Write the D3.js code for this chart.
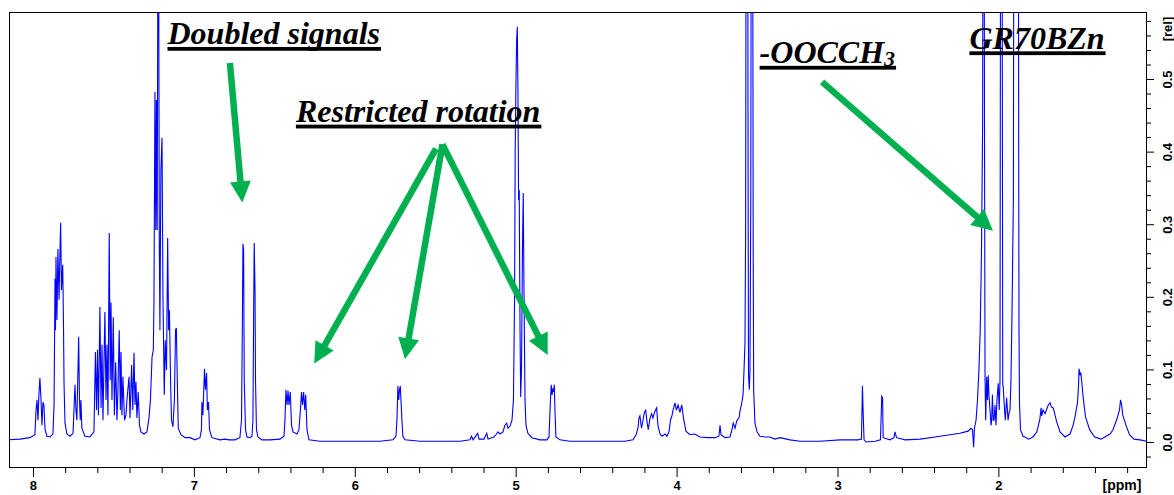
<!DOCTYPE html>
<html>
<head>
<meta charset="utf-8">
<script src="https://cdn.jsdelivr.net/npm/d3@7"></script>
<style>
  html, body { margin: 0; padding: 0; background: #fff; }
  svg { display: block; }
</style>
</head>
<body>
<svg id="chart" width="1174" height="495"></svg>
<script>
// ---------------- DATA ----------------
// 1H NMR spectrum: [chemical shift (ppm), relative intensity]
// 0.90 marks signals that run off the top of the plot.
const aromaticRegion = [
[8.155,0.003],[8.081,0.004],[8.019,0.006],[7.988,0.010],[7.981,0.044],[7.975,0.058],[7.969,0.030],
[7.963,0.065],[7.957,0.088],[7.950,0.058],[7.944,0.023],[7.938,0.055],[7.932,0.051],[7.925,0.017],
[7.913,0.008],[7.894,0.007],[7.876,0.011],[7.869,0.051],[7.863,0.225],[7.860,0.154],[7.857,0.255],
[7.851,0.168],[7.845,0.266],[7.838,0.196],[7.832,0.265],[7.828,0.302],[7.823,0.209],[7.815,0.244],
[7.810,0.154],[7.807,0.081],[7.801,0.026],[7.789,0.011],[7.770,0.008],[7.751,0.012],[7.739,0.079],
[7.733,0.044],[7.727,0.030],[7.716,0.145],[7.711,0.058],[7.706,0.030],[7.702,0.058],[7.696,0.019],
[7.677,0.008],[7.646,0.007],[7.621,0.014],[7.612,0.124],[7.605,0.044],[7.599,0.127],[7.593,0.037],
[7.584,0.186],[7.577,0.047],[7.571,0.134],[7.565,0.030],[7.553,0.179],[7.546,0.058],[7.540,0.134],
[7.534,0.037],[7.526,0.288],[7.520,0.085],[7.515,0.192],[7.509,0.058],[7.501,0.172],[7.494,0.037],
[7.486,0.110],[7.478,0.030],[7.472,0.072],[7.464,0.154],[7.457,0.044],[7.453,0.124],[7.447,0.037],
[7.441,0.090],[7.431,0.030],[7.422,0.037],[7.416,0.058],[7.403,0.090],[7.397,0.033],[7.387,0.106],
[7.380,0.044],[7.372,0.123],[7.366,0.051],[7.360,0.083],[7.354,0.033],[7.346,0.069],[7.338,0.023],
[7.329,0.014],[7.310,0.011],[7.292,0.014],[7.279,0.033],[7.270,0.058],[7.260,0.117],[7.252,0.127],
[7.248,0.196],[7.242,0.482],[7.237,0.292],[7.233,0.471],[7.228,0.292],[7.221,0.900],[7.215,0.278],
[7.211,0.154],[7.205,0.375],[7.198,0.419],[7.192,0.196],[7.184,0.065],[7.178,0.140],[7.170,0.099],
[7.163,0.281],[7.157,0.154],[7.152,0.182],[7.145,0.085],[7.139,0.030],[7.130,0.021],[7.121,0.058],
[7.114,0.154],[7.109,0.157],[7.103,0.085],[7.097,0.019],[7.080,0.010],[7.055,0.006],[7.024,0.006],
[6.993,0.003],[6.962,0.006],[6.953,0.017],[6.950,0.055],[6.944,0.037],[6.934,0.101],[6.928,0.072],
[6.921,0.095],[6.916,0.044],[6.909,0.055],[6.903,0.017],[6.888,0.006],[6.838,0.003],[6.807,0.004],
[6.782,0.003],[6.745,0.003],[6.714,0.006],[6.704,0.030],[6.699,0.154],[6.695,0.273],[6.691,0.264],
[6.687,0.085],[6.679,0.017],[6.670,0.007],[6.651,0.006],[6.639,0.008],[6.633,0.030],[6.628,0.196],
[6.625,0.274],[6.620,0.209],[6.617,0.085],[6.611,0.017],[6.602,0.007]
];
const olefinicRegion = [
[6.577,0.003],[6.527,0.003],[6.465,0.004],[6.440,0.008],[6.434,0.030],[6.428,0.072],[6.421,0.051],
[6.415,0.071],[6.409,0.051],[6.401,0.069],[6.393,0.023],[6.384,0.014],[6.359,0.011],[6.347,0.017],
[6.338,0.044],[6.331,0.069],[6.325,0.051],[6.318,0.069],[6.311,0.044],[6.305,0.065],[6.297,0.017],
[6.285,0.003],[6.216,0.001],[6.092,0.001],[5.968,0.001],[5.843,0.001],[5.763,0.003],[5.744,0.008],
[5.738,0.030],[5.732,0.077],[5.727,0.058],[5.722,0.072],[5.717,0.077],[5.713,0.058],[5.707,0.030],
[5.701,0.008],[5.688,0.003],[5.595,0.001],[5.471,0.001],[5.346,0.001],[5.284,0.003],[5.274,0.008],
[5.265,0.003],[5.236,0.012],[5.228,0.004],[5.197,0.004],[5.180,0.012],[5.172,0.004],[5.135,0.007],
[5.123,0.010],[5.110,0.014],[5.098,0.011],[5.079,0.014],[5.067,0.023],[5.056,0.026],[5.048,0.019],
[5.035,0.022],[5.023,0.030],[5.014,0.058],[5.007,0.196],[5.003,0.402],[4.998,0.499],[4.994,0.554],
[4.990,0.572],[4.986,0.485],[4.982,0.333],[4.978,0.347],[4.973,0.154],[4.969,0.062],[4.964,0.099],
[4.958,0.264],[4.953,0.343],[4.948,0.196],[4.942,0.058],[4.936,0.023],[4.924,0.012],[4.899,0.006],
[4.849,0.003],[4.806,0.003],[4.793,0.007],[4.784,0.058],[4.779,0.079],[4.774,0.065],[4.768,0.074],
[4.764,0.069],[4.760,0.079],[4.756,0.044],[4.750,0.007],[4.725,0.003]
];
const midRegion = [
[4.663,0.001],[4.538,0.001],[4.414,0.001],[4.321,0.001],[4.271,0.003],[4.252,0.010],[4.240,0.019],
[4.234,0.033],[4.228,0.036],[4.218,0.019],[4.209,0.030],[4.200,0.041],[4.192,0.044],[4.184,0.028],
[4.176,0.017],[4.165,0.033],[4.155,0.039],[4.147,0.033],[4.137,0.041],[4.124,0.047],[4.116,0.023],
[4.103,0.011],[4.091,0.008],[4.072,0.011],[4.060,0.008],[4.047,0.014],[4.038,0.030],[4.029,0.036],
[4.022,0.044],[4.010,0.054],[4.001,0.044],[3.991,0.051],[3.979,0.041],[3.968,0.051],[3.957,0.033],
[3.942,0.015],[3.917,0.010],[3.886,0.011],[3.855,0.007],[3.805,0.006],[3.761,0.006],[3.737,0.008],
[3.730,0.023],[3.724,0.010],[3.699,0.006],[3.668,0.007],[3.656,0.017],[3.648,0.026],[3.637,0.019],
[3.625,0.030],[3.612,0.033],[3.606,0.043],[3.597,0.051],[3.587,0.065],[3.581,0.099],[3.575,0.136],
[3.571,0.292],[3.567,0.900],[3.559,0.900],[3.555,0.292],[3.553,0.092],[3.548,0.072],[3.544,0.099],
[3.539,0.333],[3.535,0.900],[3.528,0.900],[3.524,0.264],[3.521,0.072],[3.513,0.026],[3.500,0.014],
[3.482,0.008],[3.451,0.007],[3.420,0.007],[3.389,0.004],[3.357,0.006],[3.295,0.003],[3.233,0.001],
[3.109,0.001],[2.984,0.003],[2.873,0.003],[2.851,0.004],[2.845,0.077],[2.840,0.037],[2.835,0.003],
[2.823,0.000],[2.767,0.001],[2.733,0.003],[2.725,0.063],[2.720,0.061],[2.716,0.006],[2.674,0.003],
[2.649,0.006],[2.643,0.014],[2.633,0.006]
];
const aliphaticRegion = [
[2.580,0.003],[2.487,0.004],[2.394,0.007],[2.301,0.010],[2.239,0.012],[2.189,0.015],[2.170,0.019],
[2.161,0.017],[2.154,-0.007],[2.149,0.019],[2.139,0.030],[2.130,0.058],[2.121,0.099],[2.113,0.154],
[2.105,0.264],[2.100,0.388],[2.098,0.439],[2.095,0.900],[2.090,0.900],[2.086,0.388],[2.083,0.085],
[2.079,0.030],[2.073,0.090],[2.068,0.058],[2.063,0.092],[2.059,0.065],[2.052,0.044],[2.046,0.023],
[2.042,0.030],[2.037,0.065],[2.032,0.030],[2.027,0.030],[2.021,0.051],[2.015,0.023],[2.009,0.058],
[2.001,0.081],[1.995,0.044],[1.990,0.085],[1.986,0.900],[1.978,0.900],[1.973,0.079],[1.970,0.076],
[1.962,0.044],[1.957,0.030],[1.949,0.061],[1.940,0.030],[1.934,0.040],[1.928,0.044],[1.922,0.085],
[1.916,0.168],[1.911,0.260],[1.907,0.333],[1.903,0.900],[1.876,0.900],[1.874,0.420],[1.872,0.154],
[1.869,0.055],[1.863,0.017],[1.847,0.008],[1.835,0.007],[1.813,0.004],[1.785,0.007],[1.761,0.014],
[1.742,0.032],[1.735,0.047],[1.731,0.036],[1.723,0.044],[1.710,0.039],[1.690,0.051],[1.679,0.054],
[1.670,0.048],[1.659,0.047],[1.638,0.028],[1.617,0.014],[1.586,0.007],[1.555,0.011],[1.536,0.023],
[1.524,0.035],[1.508,0.055],[1.502,0.078],[1.499,0.101],[1.493,0.092],[1.488,0.096],[1.481,0.081],
[1.474,0.063],[1.459,0.035],[1.433,0.017],[1.402,0.007],[1.362,0.004],[1.331,0.008],[1.306,0.011],
[1.288,0.017],[1.263,0.032],[1.247,0.045],[1.241,0.058],[1.238,0.055],[1.234,0.051],[1.227,0.037],
[1.207,0.023],[1.185,0.010],[1.157,0.004],[1.120,0.003],[1.077,0.001]
];

// axis ticks and labels
const xMajorTicks = [8, 7, 6, 5, 4, 3, 2];
const xTickLabels = ["8", "7", "6", "5", "4", "3", "2"];
const yMajorTicks = [0.0, 0.1, 0.2, 0.3, 0.4, 0.5];
const yTickLabels = ["0.0", "0.1", "0.2", "0.3", "0.4", "0.5"];
const xAxisTitle = "[ppm]";
const yAxisTitle = "[rel]";

// annotations, anchored in data coordinates [ppm, rel]
const annotationTexts = ["Doubled signals", "Restricted rotation", "-OOCCH", "GR70BZn"];
const annotationSubscripts = ["", "", "3", ""];
const annotationAnchors = [[7.164, 0.548], [6.366, 0.441], [3.484, 0.522], [2.180, 0.542]];
const arrowStarts = [[6.776, 0.522], [5.495, 0.404], [5.455, 0.410], [5.455, 0.410], [3.096, 0.496]];
const arrowEnds   = [[6.699, 0.330], [6.252, 0.108], [5.688, 0.114], [4.801, 0.120], [2.034, 0.291]];

// ---------------- LAYOUT ----------------
const frame = { left: 9, right: 1147, top: 12, bottom: 467 };
const svg = d3.select("#chart");
const x = d3.scaleLinear().domain([8.149, 1.0765]).range([frame.left, frame.right]);
const y = d3.scaleLinear().domain([-0.0344, 0.5923]).range([frame.bottom, frame.top]);

const axisFont = "'Liberation Sans', Arial, sans-serif";
const serifFont = "'Liberation Serif', 'Times New Roman', serif";
const green = "#00b050";

svg.append("defs").append("clipPath").attr("id", "plotClip")
  .append("rect")
  .attr("x", frame.left).attr("y", frame.top)
  .attr("width", frame.right - frame.left).attr("height", frame.bottom - frame.top);

// spectrum
const spectrum = aromaticRegion.concat(olefinicRegion, midRegion, aliphaticRegion);
const line = d3.line().x(d => x(d[0])).y(d => y(d[1]));
svg.append("path")
  .datum(spectrum)
  .attr("clip-path", "url(#plotClip)")
  .attr("d", line)
  .attr("fill", "none")
  .attr("stroke", "#0000ff")
  .attr("stroke-width", 1.1)
  .attr("stroke-linejoin", "miter");

// frame
svg.append("rect")
  .attr("x", frame.left + 0.5).attr("y", frame.top + 0.5)
  .attr("width", frame.right - frame.left - 1).attr("height", frame.bottom - frame.top)
  .attr("fill", "none").attr("stroke", "#000").attr("stroke-width", 1);

// x axis (bottom): minor ticks every 0.2 ppm, major every 1 ppm
const xMinor = d3.range(12, 81, 2).map(v => v / 10).filter(v => xMajorTicks.indexOf(v) < 0);
const gxMinor = svg.append("g").attr("transform", `translate(0,${frame.bottom})`)
  .call(d3.axisBottom(x).tickValues(xMinor).tickSize(6).tickFormat(""));
const gxMajor = svg.append("g").attr("transform", `translate(0,${frame.bottom})`)
  .call(d3.axisBottom(x).tickValues(xMajorTicks).tickSize(10)
    .tickFormat((d, i) => xTickLabels[i]));
[gxMinor, gxMajor].forEach(g => {
  g.select(".domain").remove();
  g.selectAll("line").attr("stroke", "#000");
});
gxMajor.selectAll("text")
  .attr("y", 23).attr("dy", 0)
  .style("font-family", axisFont).style("font-weight", "bold").style("font-size", "13px")
  .attr("fill", "#000");
svg.append("text")
  .attr("x", 1122).attr("y", frame.bottom + 23)
  .attr("text-anchor", "middle")
  .style("font-family", axisFont).style("font-weight", "bold").style("font-size", "14px")
  .text(xAxisTitle);

// y axis (right)
const yMinor = d3.range(-2, 59, 2).map(v => v / 100).filter(v => v % 0.1 > 0.001 && v % 0.1 < 0.099 || v < 0);
const gyMinor = svg.append("g").attr("transform", `translate(${frame.right},0)`)
  .call(d3.axisRight(y).tickValues(yMinor).tickSize(4).tickFormat(""));
const gyMajor = svg.append("g").attr("transform", `translate(${frame.right},0)`)
  .call(d3.axisRight(y).tickValues(yMajorTicks).tickSize(7)
    .tickFormat((d, i) => yTickLabels[i]));
[gyMinor, gyMajor].forEach(g => {
  g.select(".domain").remove();
  g.selectAll("line").attr("stroke", "#000");
});
gyMajor.selectAll("text")
  .attr("transform", "rotate(-90)")
  .attr("x", 0).attr("y", 25).attr("dy", 0)
  .attr("text-anchor", "middle")
  .style("font-family", axisFont).style("font-weight", "bold").style("font-size", "13px")
  .attr("fill", "#000");
svg.append("text")
  .attr("transform", `translate(${frame.right + 25},29) rotate(-90)`)
  .attr("text-anchor", "middle")
  .style("font-family", axisFont).style("font-weight", "bold").style("font-size", "13px")
  .text(yAxisTitle);

// arrows
const headLen = 21, headHalf = 10.5, shaftW = 6.5;
arrowStarts.forEach((s, i) => {
  const e = arrowEnds[i];
  const x0 = x(s[0]), y0 = y(s[1]), x1 = x(e[0]), y1 = y(e[1]);
  const dx = x1 - x0, dy = y1 - y0, len = Math.hypot(dx, dy);
  const ux = dx / len, uy = dy / len, px = -uy, py = ux;
  const bx = x1 - ux * headLen, by = y1 - uy * headLen;
  svg.append("line")
    .attr("x1", x0).attr("y1", y0)
    .attr("x2", bx + ux * 2).attr("y2", by + uy * 2)
    .attr("stroke", green).attr("stroke-width", shaftW);
  svg.append("polygon")
    .attr("points", [[x1, y1], [bx + px * headHalf, by + py * headHalf], [bx - px * headHalf, by - py * headHalf]]
      .map(p => p.join(",")).join(" "))
    .attr("fill", green);
});

// annotation labels, bold italic serif with thick underline
annotationTexts.forEach((t, i) => {
  const ax = x(annotationAnchors[i][0]), ay = y(annotationAnchors[i][1]);
  const txt = svg.append("text")
    .attr("x", ax).attr("y", ay)
    .style("font-family", serifFont).style("font-style", "italic")
    .style("font-weight", "bold").style("font-size", "32px")
    .attr("fill", "#000");
  txt.append("tspan").text(t);
  if (annotationSubscripts[i]) {
    txt.append("tspan").attr("dy", 3).style("font-size", "22px").text(annotationSubscripts[i]);
  }
  const w = txt.node().getComputedTextLength();
  svg.append("rect")
    .attr("x", ax).attr("y", ay + 2.8)
    .attr("width", w + 1).attr("height", 3.8)
    .attr("fill", "#000");
});
</script>
</body>
</html>
